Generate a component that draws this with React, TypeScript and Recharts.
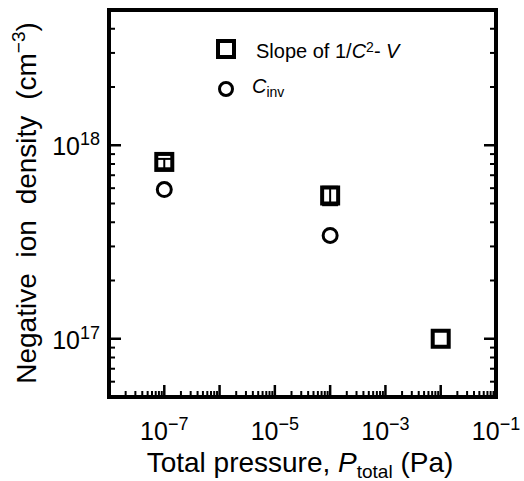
import React from 'react';
import { ScatterChart, Scatter, XAxis, YAxis, ErrorBar, Legend } from 'recharts';

// values
const slopePressure = [1e-7, 1e-4, 1e-2];
const slopeDensity = [8.2e17, 5.5e17, 1.0e17];
const slopeError = [[0.6e17, 0.3e17], [0.6e17, 0.6e17], 0];
const cinvPressure = [1e-7, 1e-4];
const cinvDensity = [5.9e17, 3.42e17];

// axis ticks
const xDecades = [-8, -7, -6, -5, -4, -3, -2];
const xLabelExp = [-7, -5, -3, -1];
const yDecades = [16, 17, 18];
const yLabelExp = [17, 18];
const minorMult = [1, 2, 3, 4, 5, 6, 7, 8, 9];

const xDomain = [1e-8, 1e-1];
const yDomain = [5e16, 5e18];

const xTicks = [...xDecades.flatMap((d) => minorMult.map((m) => m * Math.pow(10, d))), 1e-1];
const yTicks = yDecades
  .flatMap((d) => minorMult.map((m) => m * Math.pow(10, d)))
  .filter((v) => v >= yDomain[0] * 0.999 && v <= yDomain[1] * 1.001);

const slopeData = slopePressure.map((p, i) => ({ p, n: slopeDensity[i], err: slopeError[i] }));
const cinvData = cinvPressure.map((p, i) => ({ p, n: cinvDensity[i] }));

const FONT = '"Liberation Sans", Arial, sans-serif';

const isMajor = (v: number) => {
  const e = Math.round(Math.log10(v));
  return { major: Math.abs(v - Math.pow(10, e)) / v < 1e-6, exp: e };
};

const BottomTick = (props: any) => {
  const { x, y, payload } = props;
  const { major, exp } = isMajor(payload.value);
  const len = major ? 12 : 6;
  return (
    <g>
      <line x1={x} x2={x} y1={y} y2={y - len} stroke="#000" strokeWidth={major ? 2.5 : 2} />
      {major && xLabelExp.includes(exp) && (
        <text x={x} y={y + 43} textAnchor="middle" fontFamily={FONT} fontSize={25} fill="#000">
          10<tspan dy={-10} fontSize={18}>{'\u2212' + Math.abs(exp)}</tspan>
        </text>
      )}
    </g>
  );
};

const TopTick = (props: any) => {
  const { x, y, payload } = props;
  const { major } = isMajor(payload.value);
  const len = major ? 12 : 6;
  return <line x1={x} x2={x} y1={y} y2={y + len} stroke="#000" strokeWidth={major ? 2.5 : 2} />;
};

const LeftTick = (props: any) => {
  const { x, y, payload } = props;
  const { major, exp } = isMajor(payload.value);
  const len = major ? 12 : 6;
  return (
    <g>
      <line x1={x} x2={x + len} y1={y} y2={y} stroke="#000" strokeWidth={major ? 2.5 : 2} />
      {major && yLabelExp.includes(exp) && (
        <text x={x - 9} y={y + 10} textAnchor="end" fontFamily={FONT} fontSize={25} fill="#000">
          10<tspan dy={-10} fontSize={18}>{String(exp)}</tspan>
        </text>
      )}
    </g>
  );
};

const RightTick = (props: any) => {
  const { x, y, payload } = props;
  const { major } = isMajor(payload.value);
  const len = major ? 12 : 6;
  return <line x1={x} x2={x - len} y1={y} y2={y} stroke="#000" strokeWidth={major ? 2.5 : 2} />;
};

const SquareShape = (props: any) => {
  const { cx, cy } = props;
  return <rect x={cx - 8} y={cy - 8} width={16} height={16} fill="none" stroke="#000" strokeWidth={4} />;
};

const CircleShape = (props: any) => {
  const { cx, cy } = props;
  return <circle cx={cx} cy={cy} r={7} fill="none" stroke="#000" strokeWidth={3} />;
};

const XTitle = () => (
  <text x={300} y={472} textAnchor="middle" fontFamily={FONT} fontSize={28} fill="#000">
    Total pressure, <tspan fontStyle="italic">P</tspan>
    <tspan dy={6} fontSize={19}>total</tspan>
    <tspan dy={-6}> (Pa)</tspan>
  </text>
);

const YTitle = () => (
  <text
    x={36}
    y={203}
    transform="rotate(-90, 36, 203)"
    textAnchor="middle"
    fontFamily={FONT}
    fontSize={28}
    fill="#000"
    style={{ wordSpacing: 8 }}
  >
    Negative ion density (cm<tspan dy={-11} fontSize={19}>{'\u22123'}</tspan>
    <tspan dy={11}>)</tspan>
  </text>
);

const LegendContent = () => (
  <div style={{ fontFamily: FONT, fontSize: 20, color: '#000', lineHeight: '20px' }}>
    <div style={{ display: 'flex', alignItems: 'center', height: 24 }}>
      <svg width={24} height={24} style={{ marginRight: 18 }}>
        <rect x={4} y={4} width={16} height={16} fill="none" stroke="#000" strokeWidth={4} />
      </svg>
      <span>
        Slope of 1/<i>C</i>
        <sup style={{ fontSize: 14, verticalAlign: 6 }}>2</sup>- <i>V</i>
      </span>
    </div>
    <div style={{ display: 'flex', alignItems: 'center', height: 24, marginTop: 16 }}>
      <svg width={24} height={24} style={{ marginRight: 14 }}>
        <circle cx={12} cy={12} r={6.5} fill="none" stroke="#000" strokeWidth={3} />
      </svg>
      <span>
        <i>C</i>
        <sub style={{ fontSize: 14, verticalAlign: -4 }}>inv</sub>
      </span>
    </div>
  </div>
);

const axisStroke = { stroke: '#000', strokeWidth: 4, strokeLinecap: 'square' as const };

export default function App() {
  return (
    <div style={{ position: 'absolute', left: 0, top: 0, width: 524, height: 481, background: '#fff' }}>
      <ScatterChart width={524} height={481} margin={{ top: 5, right: 23, bottom: 64, left: 89 }}>
        <XAxis
          xAxisId="b"
          dataKey="p"
          type="number"
          scale="log"
          domain={xDomain}
          allowDataOverflow
          ticks={xTicks}
          interval={0}
          height={20}
          tickSize={0}
          tickMargin={0}
          tick={<BottomTick />}
          axisLine={axisStroke}
          label={<XTitle />}
        />
        <XAxis
          xAxisId="t"
          orientation="top"
          type="number"
          scale="log"
          domain={xDomain}
          allowDataOverflow
          ticks={xTicks}
          interval={0}
          height={5}
          tickSize={0}
          tickMargin={0}
          tick={<TopTick />}
          axisLine={axisStroke}
        />
        <YAxis
          yAxisId="l"
          dataKey="n"
          type="number"
          scale="log"
          domain={yDomain}
          allowDataOverflow
          ticks={yTicks}
          interval={0}
          width={20}
          tickSize={0}
          tickMargin={0}
          tick={<LeftTick />}
          axisLine={axisStroke}
          label={<YTitle />}
        />
        <YAxis
          yAxisId="r"
          orientation="right"
          type="number"
          scale="log"
          domain={yDomain}
          allowDataOverflow
          ticks={yTicks}
          interval={0}
          width={5}
          tickSize={0}
          tickMargin={0}
          tick={<RightTick />}
          axisLine={axisStroke}
        />
        <Legend
          layout="vertical"
          align="center"
          verticalAlign="middle"
          wrapperStyle={{ left: 214, top: 37, width: 220 }}
          content={<LegendContent />}
        />
        <Scatter
          name="Slope of 1/C2-V"
          data={slopeData}
          xAxisId="b"
          yAxisId="l"
          shape={<SquareShape />}
          isAnimationActive={false}
        >
          <ErrorBar dataKey="err" direction="y" width={8} stroke="#000" strokeWidth={2} isAnimationActive={false} />
        </Scatter>
        <Scatter
          name="Cinv"
          data={cinvData}
          xAxisId="b"
          yAxisId="l"
          shape={<CircleShape />}
          isAnimationActive={false}
        />
      </ScatterChart>
    </div>
  );
}
